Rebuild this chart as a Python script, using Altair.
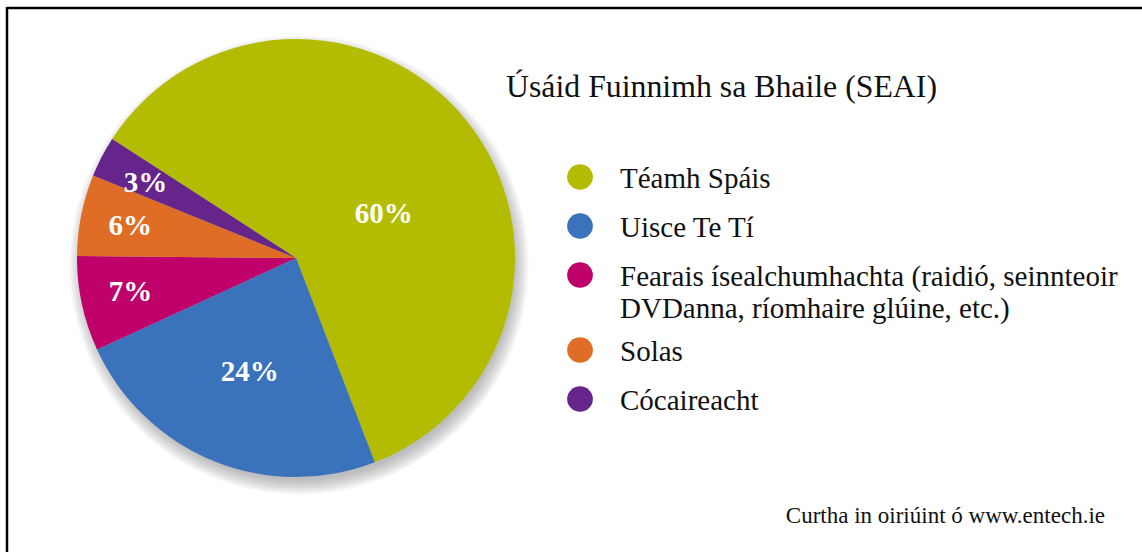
import math
import altair as alt
import pandas as pd

# ---- data ----
categories = ["Téamh Spáis", "Uisce Te Tí",
              "Fearais ísealchumhachta (raidió, seinnteoir|DVDanna, ríomhaire glúine, etc.)",
              "Solas", "Cócaireacht"]
values = [60, 24, 7, 6, 3]
pct_labels = ["60%", "24%", "7%", "6%", "3%"]
colors = ["#b3bc00", "#3a72bc", "#c0006a", "#e06d25", "#66258a"]
title_text = "Úsáid Fuinnimh sa Bhaile (SEAI)"
source_text = "Curtha in oiriúint ó www.entech.ie"

df = pd.DataFrame({
    "cat": categories,
    "value": values,
    "pct": pct_labels,
    "idx": list(range(len(categories))),
})

CX, CY, R = 296, 258, 219
a0 = math.radians(-57.1)
a1 = a0 + 2 * math.pi
theta_scale = alt.Scale(domain=[0, 100], range=[a0, a1])
color_scale = alt.Scale(domain=categories, range=colors)
SERIF = "Liberation Serif"

base = alt.Chart(df).transform_window(
    cum="sum(value)", sort=[alt.SortField("idx", order="ascending")]
).transform_calculate(mid="datum.cum - datum.value / 2")

# soft shadow behind pie (stacked translucent discs)
dummy = pd.DataFrame({"k": [0]})
shadows = []
for k in range(10):
    r = R - 4 + 1.6 * k
    shadows.append(
        alt.Chart(dummy).mark_arc(color="#6a6a6a", opacity=0.055, outerRadius=r).encode(
            theta=alt.value(0), theta2=alt.value(2 * math.pi),
            x=alt.value(CX + 3), y=alt.value(CY + 7),
        )
    )

pie = alt.Chart(df).mark_arc(outerRadius=R).encode(
    theta=alt.Theta("value:Q", stack=True, scale=theta_scale),
    color=alt.Color("cat:N", scale=color_scale, legend=None),
    order=alt.Order("idx:Q"),
    x=alt.value(CX), y=alt.value(CY),
)

def pct_layer(filter_expr, radius, dx=0, dy=0):
    return base.transform_filter(filter_expr).mark_text(
        font=SERIF, fontSize=29, fontWeight="bold", color="white",
        align="center", baseline="middle", dx=dx, dy=dy,
    ).encode(
        theta=alt.Theta("mid:Q", scale=theta_scale),
        radius=alt.value(radius),
        text="pct:N",
        x=alt.value(CX), y=alt.value(CY),
    )

lab_small = pct_layer("datum.value < 10", 163, dx=-6)
lab_blue = pct_layer("datum.idx == 1", 123)
lab_green = pct_layer("datum.idx == 0", 95, dx=14, dy=16)

# legend layout: rows 49px apart, extra space for each additional text line above
LEG_TOP, ROW, EXTRA = 177, 49, 26
pix = alt.Scale(domain=[0, 552], range=[0, 552])
leg_base = alt.Chart(df).transform_calculate(
    lines="split(datum.cat, '|')",
    nextra="length(split(datum.cat, '|')) - 1",
).transform_window(
    cumextra="sum(nextra)", sort=[alt.SortField("idx", order="ascending")]
).transform_calculate(
    ypos=f"{LEG_TOP} + {ROW} * datum.idx + {EXTRA} * (datum.cumextra - datum.nextra)"
)

leg_dots = leg_base.mark_circle(size=math.pi * 14.5 * 14.5, opacity=1).encode(
    x=alt.value(580),
    y=alt.Y("ypos:Q", scale=pix, axis=None),
    color=alt.Color("cat:N", scale=color_scale, legend=None),
)
leg_text = leg_base.mark_text(
    font=SERIF, fontSize=29, color="#111111", align="left", baseline="alphabetic",
    lineHeight=32, dy=11,
).encode(
    x=alt.value(620),
    y=alt.Y("ypos:Q", scale=pix, axis=None),
    text="lines:N",
)

title = alt.Chart(pd.DataFrame({"t": [title_text]})).mark_text(
    font=SERIF, fontSize=31.8, color="#111111", align="left", baseline="alphabetic",
).encode(text="t:N", x=alt.value(506), y=alt.value(97))

source = alt.Chart(pd.DataFrame({"t": [source_text]})).mark_text(
    font=SERIF, fontSize=23, color="#111111", align="right", baseline="alphabetic",
).encode(text="t:N", x=alt.value(1105), y=alt.value(523))

frame_top = alt.Chart(dummy).mark_rule(color="black", strokeWidth=2.5).encode(
    x=alt.value(7), x2=alt.value(1142), y=alt.value(8))
frame_left = alt.Chart(dummy).mark_rule(color="black", strokeWidth=2.5).encode(
    x=alt.value(7), y=alt.value(7), y2=alt.value(552))

chart = alt.layer(
    *shadows, pie, lab_small, lab_blue, lab_green, leg_dots, leg_text, title, source,
    frame_top, frame_left,
).resolve_scale(y="independent").properties(
    width=1142, height=552, padding=0,
    autosize=alt.AutoSizeParams(type="none"),
    background="white",
).configure_view(stroke=None)

chart.save("out.html", embed_options={"renderer": "svg", "actions": False})
